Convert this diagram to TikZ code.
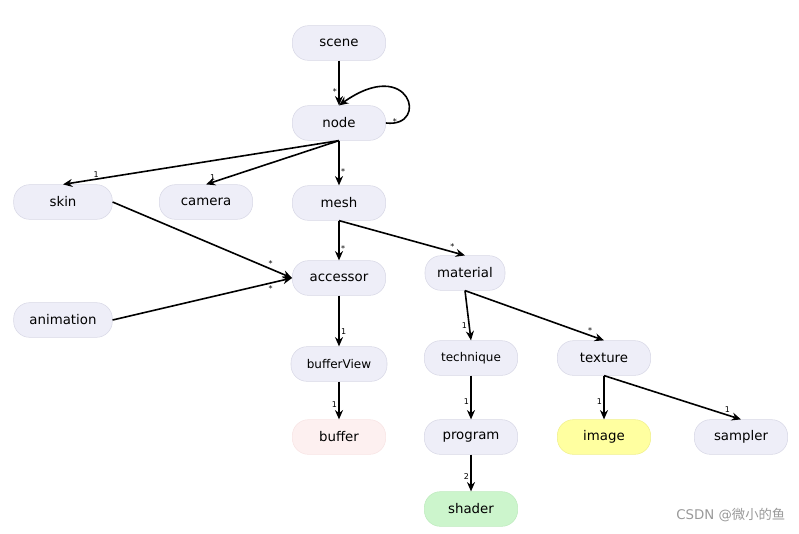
\documentclass[tikz,border=0pt]{standalone}
\usepackage{fontspec}
\setmainfont{DejaVu Sans}
\newfontfamily\cjk{Noto Sans CJK SC}
\usetikzlibrary{arrows.meta}
\definecolor{boxfill}{HTML}{EEEEF8}
\definecolor{boxline}{HTML}{D8D8E6}
\begin{document}
\begin{tikzpicture}[x=0.75pt, y=-0.75pt, >={Stealth[length=7pt,width=6pt]}]
	\tikzset{gnode/.style = {draw=boxline, fill=boxfill, rounded corners=12pt, minimum height=26pt, minimum width=70pt, font={\fontsize{10}{12}\selectfont}}}
	\tikzset{rel/.style = {->, black, very thick}}
	\tikzset{mult/.style = {font={\fontsize{6}{7}\selectfont}, inner sep=1pt}}
	\useasboundingbox (0,0) rectangle (799,533);

	\node[gnode] (scene) at (339,43) {scene};
	\node[gnode] (node) at (339,123) {node};
	\node[gnode, minimum width=74pt] (skin) at (63,202) {skin};
	\node[gnode] (camera) at (206,202) {camera};
	\node[gnode] (mesh) at (339,203) {mesh};
	\node[gnode] (accessor) at (339,278) {accessor};
	\node[gnode, minimum width=74pt] (animation) at (63,320) {animation};
	\node[gnode, minimum width=60pt] (material) at (465,273) {material};
	\node[gnode, minimum width=72pt] (bufferView) at (339,364) {\fontsize{9}{11}\selectfont bufferView};
	\node[gnode] (technique) at (471,358) {\fontsize{9}{11}\selectfont technique};
	\node[gnode] (texture) at (604,358) {texture};
	\node[gnode, fill={rgb,255:red,253;green,240;blue,240}, draw={rgb,255:red,248;green,228;blue,228}] (buffer) at (339,437) {buffer};
	\node[gnode] (program) at (471,437) {program};
	\node[gnode, fill={rgb,255:red,255;green,255;blue,160}, draw={rgb,255:red,240;green,240;blue,140}] (image) at (604,437) {image};
	\node[gnode] (sampler) at (741,437) {sampler};
	\node[gnode, fill={rgb,255:red,204;green,245;blue,204}, draw={rgb,255:red,190;green,235;blue,190}] (shader) at (471,509) {shader};

	\draw[rel] (scene) -- node[mult, left, pos=0.7] {*} (node);
	\draw[rel] (node.east) .. controls (430,128) and (410,55) .. node[mult, pos=0.12, left] {*} (node.north);
	\draw[rel] (node.south) -- node[mult, pos=0.88, above] {1} (skin.north);
	\draw[rel] (node.south) -- node[mult, pos=0.95, above] {1} (camera.north);
	\draw[rel] (node) -- node[mult, pos=0.7, right] {*} (mesh);
	\draw[rel] (mesh) -- node[mult, pos=0.7, right] {*} (accessor);
	\draw[rel] (mesh.south) -- node[mult, pos=0.9, above] {*} (material.north);
	\draw[rel] (skin.east) -- node[mult, pos=0.88, above] {*} (accessor.west);
	\draw[rel] (animation.east) -- node[mult, pos=0.88, below] {*} (accessor.west);
	\draw[rel] (accessor) -- node[mult, pos=0.7, right] {1} (bufferView);
	\draw[rel] (bufferView) -- node[mult, pos=0.6, left] {1} (buffer);
	\draw[rel] (material.south) -- node[mult, pos=0.7, left] {1} (technique.north);
	\draw[rel] (material.south) -- node[mult, pos=0.9, above] {*} (texture.north);
	\draw[rel] (technique) -- node[mult, pos=0.6, left] {1} (program);
	\draw[rel] (program) -- node[mult, pos=0.6, left] {2} (shader);
	\draw[rel] (texture) -- node[mult, pos=0.6, left] {1} (image);
	\draw[rel] (texture.south) -- node[mult, pos=0.9, above] {1} (sampler.north);

	\node[text=gray!80, anchor=east, font={\fontsize{10}{12}\selectfont}] (mark) at (790,515) {CSDN @{\cjk 微小的鱼}};
\end{tikzpicture}
\end{document}
